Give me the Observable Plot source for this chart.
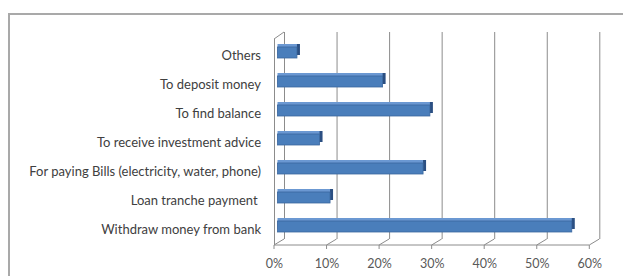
<!DOCTYPE html>
<html>
<head>
<meta charset="utf-8">
<script src="https://cdn.jsdelivr.net/npm/d3@7"></script>
<script src="https://cdn.jsdelivr.net/npm/@observablehq/plot@0.6"></script>
<style>
  html, body { margin: 0; padding: 0; background: #fff; }
  #wrap { position: relative; width: 623px; height: 276px; overflow: hidden; }
  #border { position: absolute; left: 8px; top: 13px; width: 640px; height: 300px;
            border-top: 2px solid #a9a9a9; border-left: 2px solid #a9a9a9; box-sizing: border-box; }
  #chart { position: absolute; left: 0; top: 0; }
</style>
</head>
<body>
<div id="wrap"><div id="border"></div><div id="chart"></div></div>
<script>
const categories = [
  "Others",
  "To deposit money",
  "To find balance",
  "To receive investment advice",
  "For paying Bills (electricity, water, phone)",
  "Loan tranche payment ",
  "Withdraw money from bank"
];
const values = [0.037, 0.20, 0.29, 0.08, 0.277, 0.10, 0.56];
const ticks = [0, 0.1, 0.2, 0.3, 0.4, 0.5, 0.6];

const data = categories.map((c, i) => ({category: c, value: values[i]}));

const floor = (index, scales, vals, dim) => {
  const x = scales.x;
  const top = dim.marginTop;
  const bottom = dim.height - dim.marginBottom;
  const g = d3.create("svg:g").attr("stroke", "#8c8c8c").attr("fill", "none").attr("stroke-width", 1);
  g.append("line").attr("x1", x(0) - 3.5).attr("x2", x(0.6) - 3.5)
    .attr("y1", bottom + 3).attr("y2", bottom + 3);
  for (const t of ticks) {
    g.append("line").attr("x1", x(t) + 6.5).attr("y1", bottom - 3)
      .attr("x2", x(t) - 3.5).attr("y2", bottom + 3);
    g.append("line").attr("x1", x(t) - 3.5).attr("y1", bottom + 3)
      .attr("x2", x(t) - 3.5).attr("y2", bottom + 7);
  }
  g.append("line").attr("x1", x(0) - 3.5).attr("y1", top + 2)
    .attr("x2", x(0) + 6.5).attr("y2", top - 5);
  return g.node();
};

const chart = Plot.plot({
  width: 623,
  height: 276,
  marginLeft: 277.5,
  marginRight: 30.2,
  marginTop: 37,
  marginBottom: 34,
  style: {fontFamily: "Lato, 'Liberation Sans', sans-serif", fontSize: "13px", color: "#404040", background: "transparent"},
  x: {domain: [0, 0.6], axis: null},
  y: {domain: categories, paddingInner: 0.62, paddingOuter: 0.31, axis: null},
  marks: [
    Plot.ruleX(ticks, {x: d => d, dx: 6.5, insetTop: -5, insetBottom: 3, stroke: "#8c8c8c", strokeWidth: 1}),
    Plot.ruleX([0], {x: d => d, dx: -3.5, insetTop: 2, insetBottom: -3, stroke: "#8c8c8c", strokeWidth: 1}),
    floor,
    Plot.barX(data, {y: "category", x: "value", dx: 3, dy: -3, fill: "#2b4f82"}),
    Plot.barX(data, {y: "category", x: "value", dy: -3, fill: "#6b98d2"}),
    Plot.barX(data, {y: "category", x: "value", fill: "#4a7ebb", stroke: "#3a679e", strokeWidth: 0.8}),
    Plot.axisY({tickSize: 0, tickPadding: 17, dy: 2.5, fontSize: 13, fill: "#404040", label: null}),
    Plot.axisX(ticks, {tickSize: 0, tickPadding: 17, dx: -3.5, fontSize: 12.5, fill: "#595959",
      tickFormat: d => Math.round(d * 100) + "%", label: null})
  ]
});
document.getElementById("chart").appendChild(chart);
</script>
</body>
</html>
